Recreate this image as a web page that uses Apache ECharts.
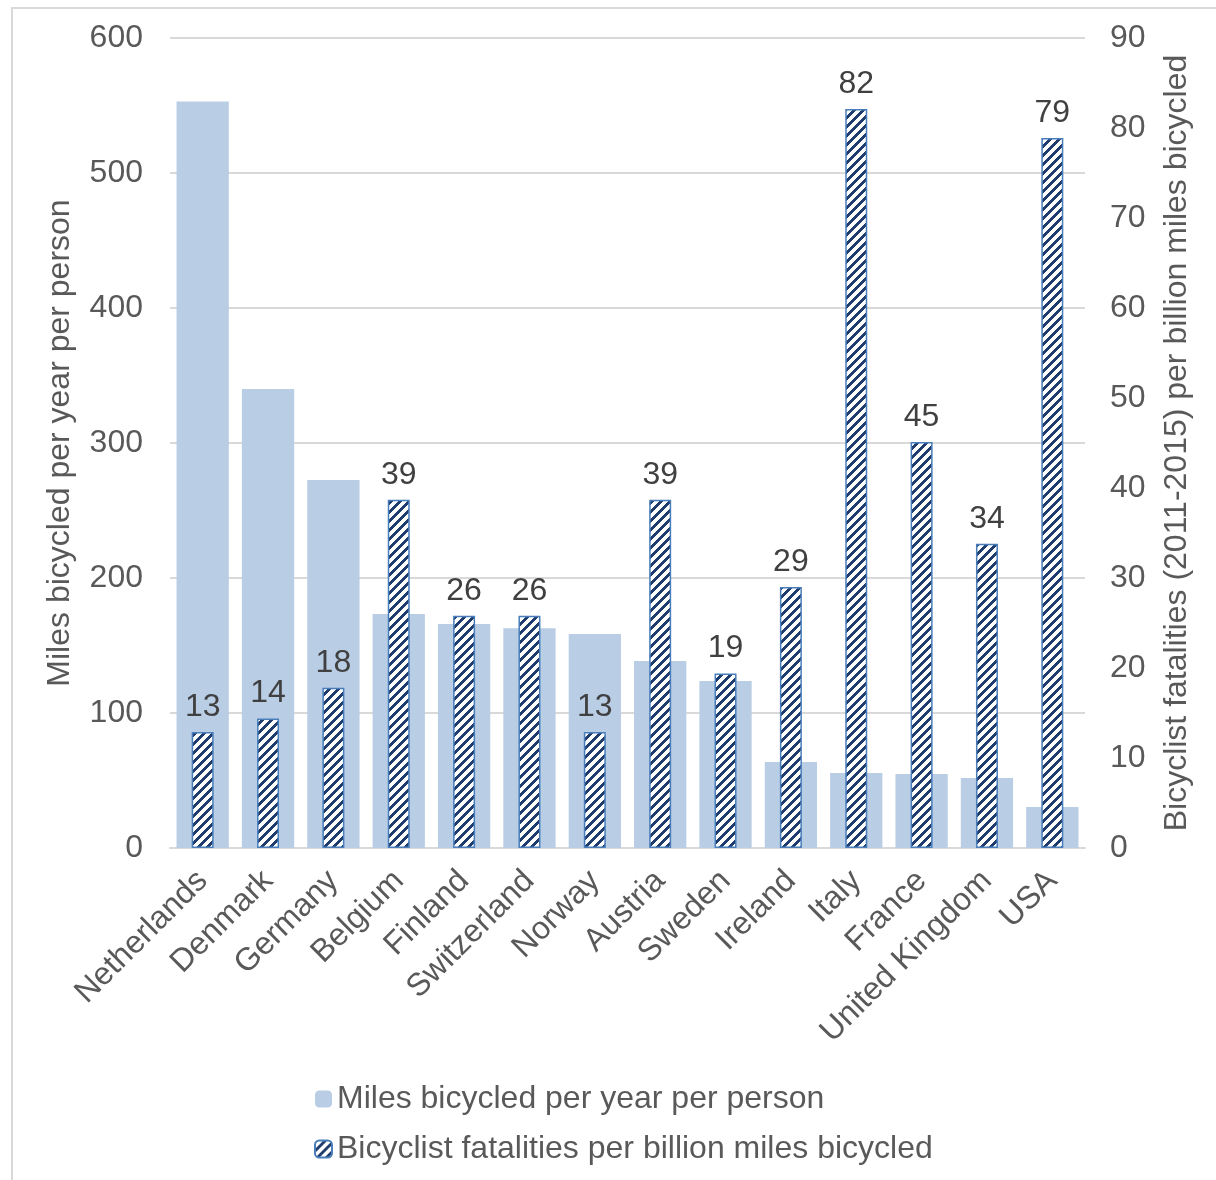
<!DOCTYPE html>
<html>
<head>
<meta charset="utf-8">
<script src="https://cdn.jsdelivr.net/npm/echarts@6/dist/echarts.min.js"></script>
<style>
html,body{margin:0;padding:0;background:#fff;overflow:hidden;}
#frame{position:absolute;left:11px;top:7px;width:1400px;height:1400px;border-left:2px solid #d9d9d9;border-top:2px solid #d9d9d9;}
#chart{position:absolute;left:0;top:0;width:1216px;height:1180px;}
</style>
</head>
<body>
<div id="frame"></div>
<div id="chart"></div>
<script>
const countries = ['Netherlands','Denmark','Germany','Belgium','Finland','Switzerland','Norway','Austria','Sweden','Ireland','Italy','France','United Kingdom','USA'];
const milesPerPerson = [553, 340, 272.6, 173.3, 166, 162.7, 158.5, 138.5, 123.7, 63.7, 55.5, 54.8, 51.9, 30.4];
const fatalitiesPerBillion = [12.9, 14.4, 17.8, 38.7, 25.8, 25.8, 12.9, 38.7, 19.4, 29.0, 82.1, 45.1, 33.8, 78.9];
const leftTicks = [0, 100, 200, 300, 400, 500, 600];
const rightTicks = [0, 10, 20, 30, 40, 50, 60, 70, 80, 90];
const seriesNames = ['Miles bicycled per year per person', 'Bicyclist fatalities per billion miles bicycled'];
const leftAxisName = 'Miles bicycled per year per person';
const rightAxisName = 'Bicyclist fatalities (2011-2015) per billion miles bicycled';

// hatch pattern (pixel-stepped wide upward diagonal)
const T = 9, THICK = 4;
const pc = document.createElement('canvas');
pc.width = T; pc.height = T;
const g = pc.getContext('2d');
g.fillStyle = '#ffffff'; g.fillRect(0,0,T,T);
g.fillStyle = '#1f3c6e';
for (let y = 0; y < T; y++) {
  for (let k = 0; k < THICK; k++) {
    const x = ((T - 1 - y) + k) % T;
    g.fillRect(x, y, 1, 1);
  }
}
const hatch = {image: pc, repeat: 'repeat'};

const font = 'Liberation Sans, Arial, sans-serif';
const FS = 32;
const chart = echarts.init(document.getElementById('chart'), null, {renderer:'canvas'});
chart.setOption({
  animation: false,
  textStyle: {fontFamily: font},
  grid: {left: 170, right: 131, top: 38, bottom: 332, containLabel: false},
  legend: {
    orient: 'vertical', left: 309, top: 1078, itemGap: 18,
    itemWidth: 17, itemHeight: 17,
    textStyle: {fontSize: FS, color: '#595959', fontFamily: font},
    data: seriesNames
  },
  xAxis: [{
    type: 'category', data: countries,
    axisLine: {lineStyle: {color: '#d9d9d9', width: 2}},
    axisTick: {show: false},
    axisLabel: {rotate: 45, fontSize: FS, color: '#595959', margin: 28, interval: 0, fontFamily: font}
  },{
    type: 'category', data: countries, show: false
  }],
  yAxis: [{
    type: 'value', min: 0, max: 600, interval: 100,
    name: leftAxisName, nameLocation: 'middle', nameGap: 94, nameRotate: 90,
    nameTextStyle: {fontSize: FS, color: '#595959', fontFamily: font},
    axisLine: {show: false}, axisTick: {show: false},
    axisLabel: {fontSize: FS, color: '#595959', margin: 27, fontFamily: font,
      formatter: v => leftTicks.includes(v) ? String(v) : ''},
    splitLine: {lineStyle: {color: '#d9d9d9', width: 2}}
  },{
    type: 'value', min: 0, max: 90, interval: 10,
    name: rightAxisName, nameLocation: 'middle', nameGap: 76, nameRotate: 90,
    nameTextStyle: {fontSize: FS, color: '#595959', fontFamily: font},
    axisLine: {show: false}, axisTick: {show: false},
    axisLabel: {fontSize: FS, color: '#595959', margin: 25, fontFamily: font,
      formatter: v => rightTicks.includes(v) ? String(v) : ''},
    splitLine: {show: false}
  }],
  series: [{
    name: seriesNames[0], type: 'bar', xAxisIndex: 0, yAxisIndex: 0,
    data: milesPerPerson, barWidth: '80%',
    itemStyle: {color: '#b9cde5'}
  },{
    name: seriesNames[1], type: 'bar', xAxisIndex: 1, yAxisIndex: 1,
    data: fatalitiesPerBillion, barWidth: 22,
    itemStyle: {color: hatch, borderColor: '#4a7ebb', borderWidth: 1.5},
    label: {show: true, position: 'top', distance: 9, fontSize: FS, color: '#404040', fontFamily: font,
      formatter: p => String(Math.round(p.value))}
  }]
});
</script>
</body>
</html>
